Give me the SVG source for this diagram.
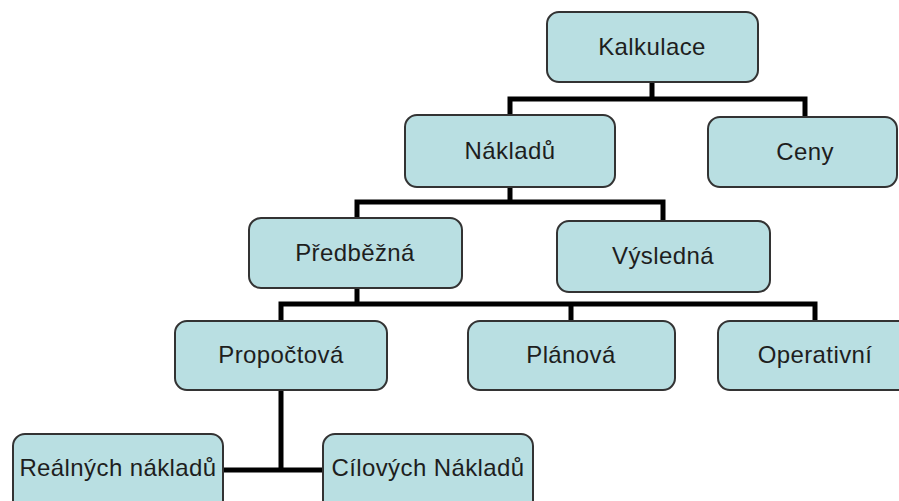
<svg xmlns="http://www.w3.org/2000/svg" width="899" height="501" viewBox="0 0 899 501">
<style>
.box{fill:#b9dfe2;stroke:#333;stroke-width:2}
.lbl{font-family:"Liberation Sans",Arial,sans-serif;font-size:24px;letter-spacing:0.4px;fill:#1e1e1e;text-anchor:middle}
.con{fill:none;stroke:#000;stroke-width:5;stroke-linecap:square;stroke-linejoin:miter}
</style>
<rect width="899" height="501" fill="#fff"/>
<g id="connectors">
<path class="con" d="M652 82 V99 M510 115 V99 H805 V117"/>
<path class="con" d="M510 187 V202 M357 218 V202 H663 V221"/>
<path class="con" d="M357 288 V304 M281 321 V304 H815 V321 M571 304 V321"/>
<path class="con" d="M281 390 V470 M223 470 H323"/>
</g>
<g id="kalkulace"><rect class="box" x="547" y="12" width="211" height="70" rx="12"/><text class="lbl" x="652" y="55">Kalkulace</text></g>
<g id="nakladu"><rect class="box" x="405" y="115" width="210" height="72" rx="12"/><text class="lbl" x="510" y="159">Nákladů</text></g>
<g id="ceny"><rect class="box" x="708" y="117" width="189" height="70" rx="12"/><text class="lbl" x="805" y="160">Ceny</text></g>
<g id="predbezna"><rect class="box" x="249" y="218" width="213" height="70" rx="12"/><text class="lbl" x="355" y="261">Předběžná</text></g>
<g id="vysledna"><rect class="box" x="557" y="221" width="213" height="71" rx="12"/><text class="lbl" x="663" y="264">Výsledná</text></g>
<g id="propoctova"><rect class="box" x="175" y="321" width="212" height="69" rx="12"/><text class="lbl" x="281" y="363">Propočtová</text></g>
<g id="planova"><rect class="box" x="468" y="321" width="207" height="69" rx="12"/><text class="lbl" x="571" y="363">Plánová</text></g>
<g id="operativni"><rect class="box" x="718" y="321" width="194" height="69" rx="12"/><text class="lbl" x="815" y="363">Operativní</text></g>
<g id="realnych"><rect class="box" x="13" y="434" width="210" height="80" rx="12"/><text class="lbl" x="118" y="476">Reálných nákladů</text></g>
<g id="cilovych"><rect class="box" x="323" y="434" width="210" height="80" rx="12"/><text class="lbl" x="428" y="476">Cílových Nákladů</text></g>
</svg>
